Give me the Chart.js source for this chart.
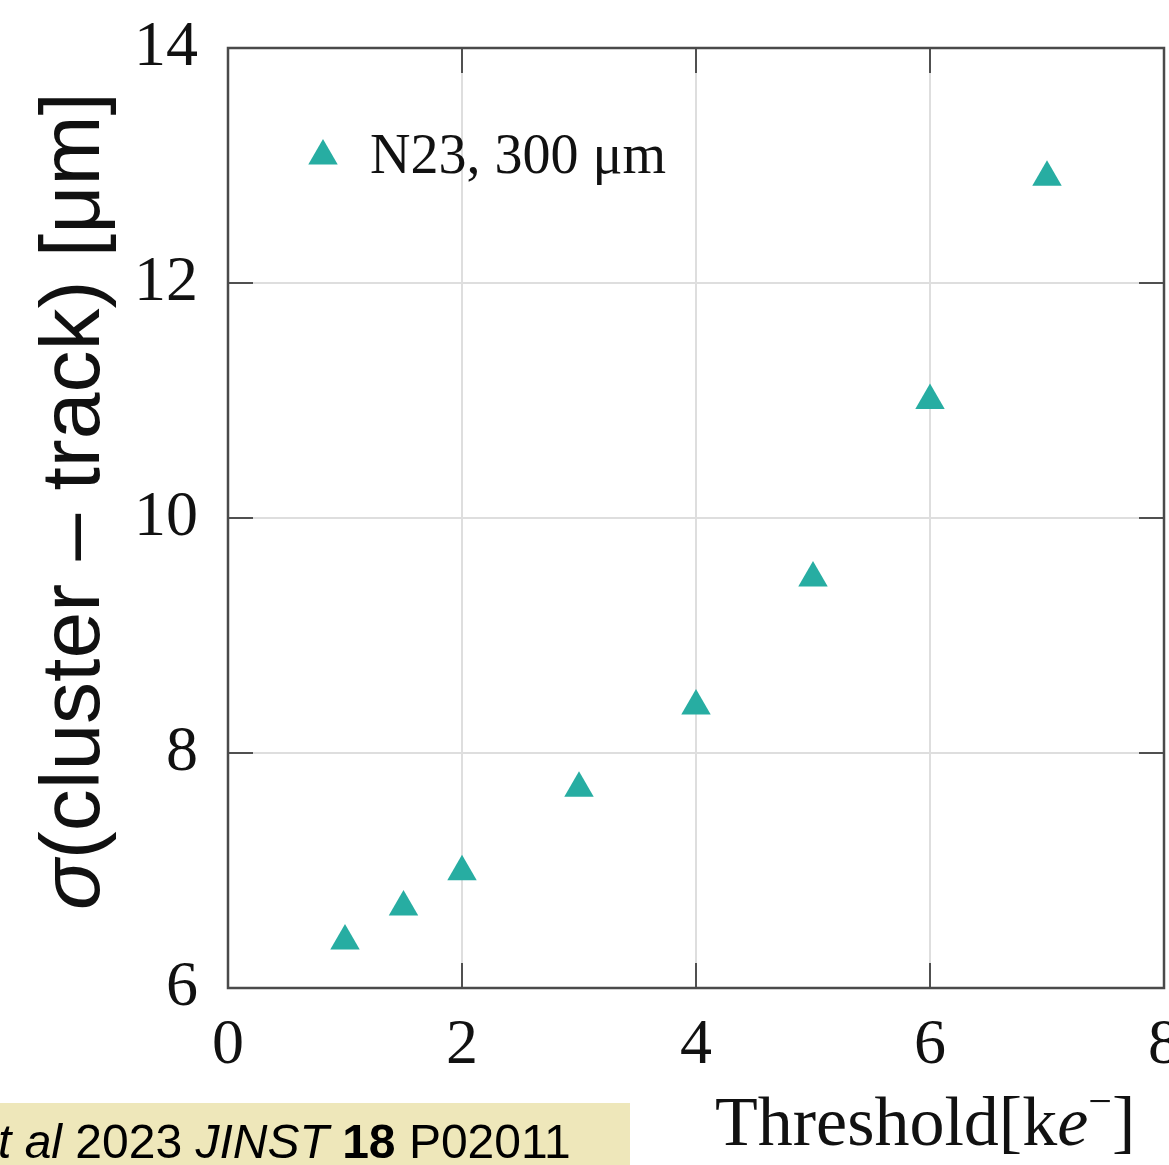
<!DOCTYPE html>
<html>
<head>
<meta charset="utf-8">
<script src="https://cdn.jsdelivr.net/npm/chart.js@4"></script>
<style>
  html, body { margin: 0; padding: 0; background: #fff; }
  #wrap { width: 1169px; height: 1165px; position: relative; overflow: hidden; }
  /* a little wider than the window so the last x label gets cut like in the source */
  #inner { width: 1181px; height: 1165px; }
</style>
</head>
<body>
<div id="wrap"><div id="inner"><canvas id="chart"></canvas></div></div>
<script>
// Data
const thresholds = [1, 1.5, 2, 3, 4, 5, 6, 7];          // ke-
const sigmaValues = [6.40, 6.69, 6.99, 7.70, 8.40, 9.49, 11.00, 12.90]; // um
const seriesLabel = "N23, 300 μm";
const xTicks = [0, 2, 4, 6, 8];
const yTicks = [6, 8, 10, 12, 14];

const TEAL = "#27ada2";
const FRAME = "#4a4a4a";
const SERIF = "'Liberation Serif', 'DejaVu Serif', serif";
const SANS = "'Liberation Sans', Arial, sans-serif";

/* ---------- draw helpers ---------- */
function drawRuns(ctx, runs, x, y) {
  // runs: [{text, font, dy}] drawn left to right from x
  let cx = x;
  runs.forEach((r) => {
    ctx.font = r.font;
    ctx.fillText(r.text, cx, y + (r.dy || 0));
    cx += ctx.measureText(r.text).width;
  });
  return cx;
}

function runsWidth(ctx, runs) {
  return runs.reduce((w, r) => {
    ctx.font = r.font;
    return w + ctx.measureText(r.text).width;
  }, 0);
}

/* ---------- frame, inner ticks, legend, titles ---------- */
const decorPlugin = {
  id: "decor",
  afterDraw(chart) {
    const { ctx, chartArea: a, scales } = chart;
    const xs = scales.x, ys = scales.y;
    ctx.save();

    // inward ticks on all four sides
    ctx.strokeStyle = "#505050";
    ctx.lineWidth = 2;
    const tl = 25;
    ctx.beginPath();
    xTicks.forEach((v) => {
      const px = xs.getPixelForValue(v);
      ctx.moveTo(px, a.bottom); ctx.lineTo(px, a.bottom - tl);
      ctx.moveTo(px, a.top); ctx.lineTo(px, a.top + tl);
    });
    yTicks.forEach((v) => {
      const py = ys.getPixelForValue(v);
      ctx.moveTo(a.left, py); ctx.lineTo(a.left + tl, py);
      ctx.moveTo(a.right, py); ctx.lineTo(a.right - tl, py);
    });
    ctx.stroke();

    // frame
    ctx.strokeStyle = FRAME;
    ctx.lineWidth = 2.5;
    ctx.strokeRect(a.left, a.top, a.right - a.left, a.bottom - a.top);

    // legend
    ctx.fillStyle = TEAL;
    Chart.helpers.drawPoint(ctx, {
      pointStyle: "triangle", radius: 17, borderWidth: 0, rotation: 0
    }, 323, 156);
    ctx.fillStyle = "#111";
    ctx.textBaseline = "alphabetic";
    ctx.textAlign = "left";
    ctx.font = "56px " + SERIF;
    ctx.fillText(seriesLabel, 370, 173);

    // y title (rotated)
    const yRuns = [
      { text: "σ", font: "italic 84px " + SANS },
      { text: "(cluster – track) [μm]", font: "84px " + SANS }
    ];
    ctx.save();
    ctx.translate(99, 501);
    ctx.rotate(-Math.PI / 2);
    drawRuns(ctx, yRuns, -runsWidth(ctx, yRuns) / 2, 0);
    ctx.restore();

    // x title
    const xRuns = [
      { text: "Threshold[k", font: "70px " + SERIF },
      { text: "e", font: "italic 70px " + SERIF },
      { text: "−", font: "42px " + SERIF, dy: -30 },
      { text: "]", font: "70px " + SERIF }
    ];
    drawRuns(ctx, xRuns, 715, 1145);

    // citation strip at the bottom left
    ctx.fillStyle = "#eee7ba";
    ctx.fillRect(0, 1103, 630, 62);
    ctx.fillStyle = "#000";
    drawRuns(ctx, [
      { text: "t al ", font: "italic 48px " + SANS },
      { text: "2023 ", font: "48px " + SANS },
      { text: "JINST ", font: "italic 48px " + SANS },
      { text: "18 ", font: "bold 48px " + SANS },
      { text: "P02011", font: "48px " + SANS }
    ], -2, 1158);

    ctx.restore();
  }
};

new Chart(document.getElementById("chart"), {
  type: "scatter",
  data: {
    datasets: [{
      label: seriesLabel,
      data: thresholds.map((t, i) => ({ x: t, y: sigmaValues[i] })),
      pointStyle: "triangle",
      pointRadius: 17,
      pointHoverRadius: 17,
      pointBorderWidth: 0,
      backgroundColor: TEAL,
      borderColor: TEAL
    }]
  },
  options: {
    responsive: true,
    maintainAspectRatio: false,
    animation: false,
    events: [],
    layout: { padding: { top: 48, right: 5, left: 0, bottom: 0 } },
    plugins: { legend: { display: false }, tooltip: { enabled: false } },
    scales: {
      x: {
        type: "linear",
        min: 0, max: 8,
        afterBuildTicks: (s) => { s.ticks = xTicks.map((v) => ({ value: v })); },
        afterFit: (s) => { s.height = 177; s.paddingLeft = 0; s.paddingRight = 0; },
        grid: { color: "#dedede", lineWidth: 2, drawTicks: false },
        border: { display: false },
        ticks: { padding: 20, color: "#111", font: { family: SERIF, size: 64 } }
      },
      y: {
        type: "linear",
        min: 6, max: 14,
        afterBuildTicks: (s) => { s.ticks = yTicks.map((v) => ({ value: v })); },
        afterFit: (s) => { s.width = 228; s.paddingTop = 0; s.paddingBottom = 0; },
        grid: { color: "#dedede", lineWidth: 2, drawTicks: false },
        border: { display: false },
        ticks: { padding: 30, color: "#111", font: { family: SERIF, size: 64 } }
      }
    }
  },
  plugins: [decorPlugin]
});
</script>
</body>
</html>
